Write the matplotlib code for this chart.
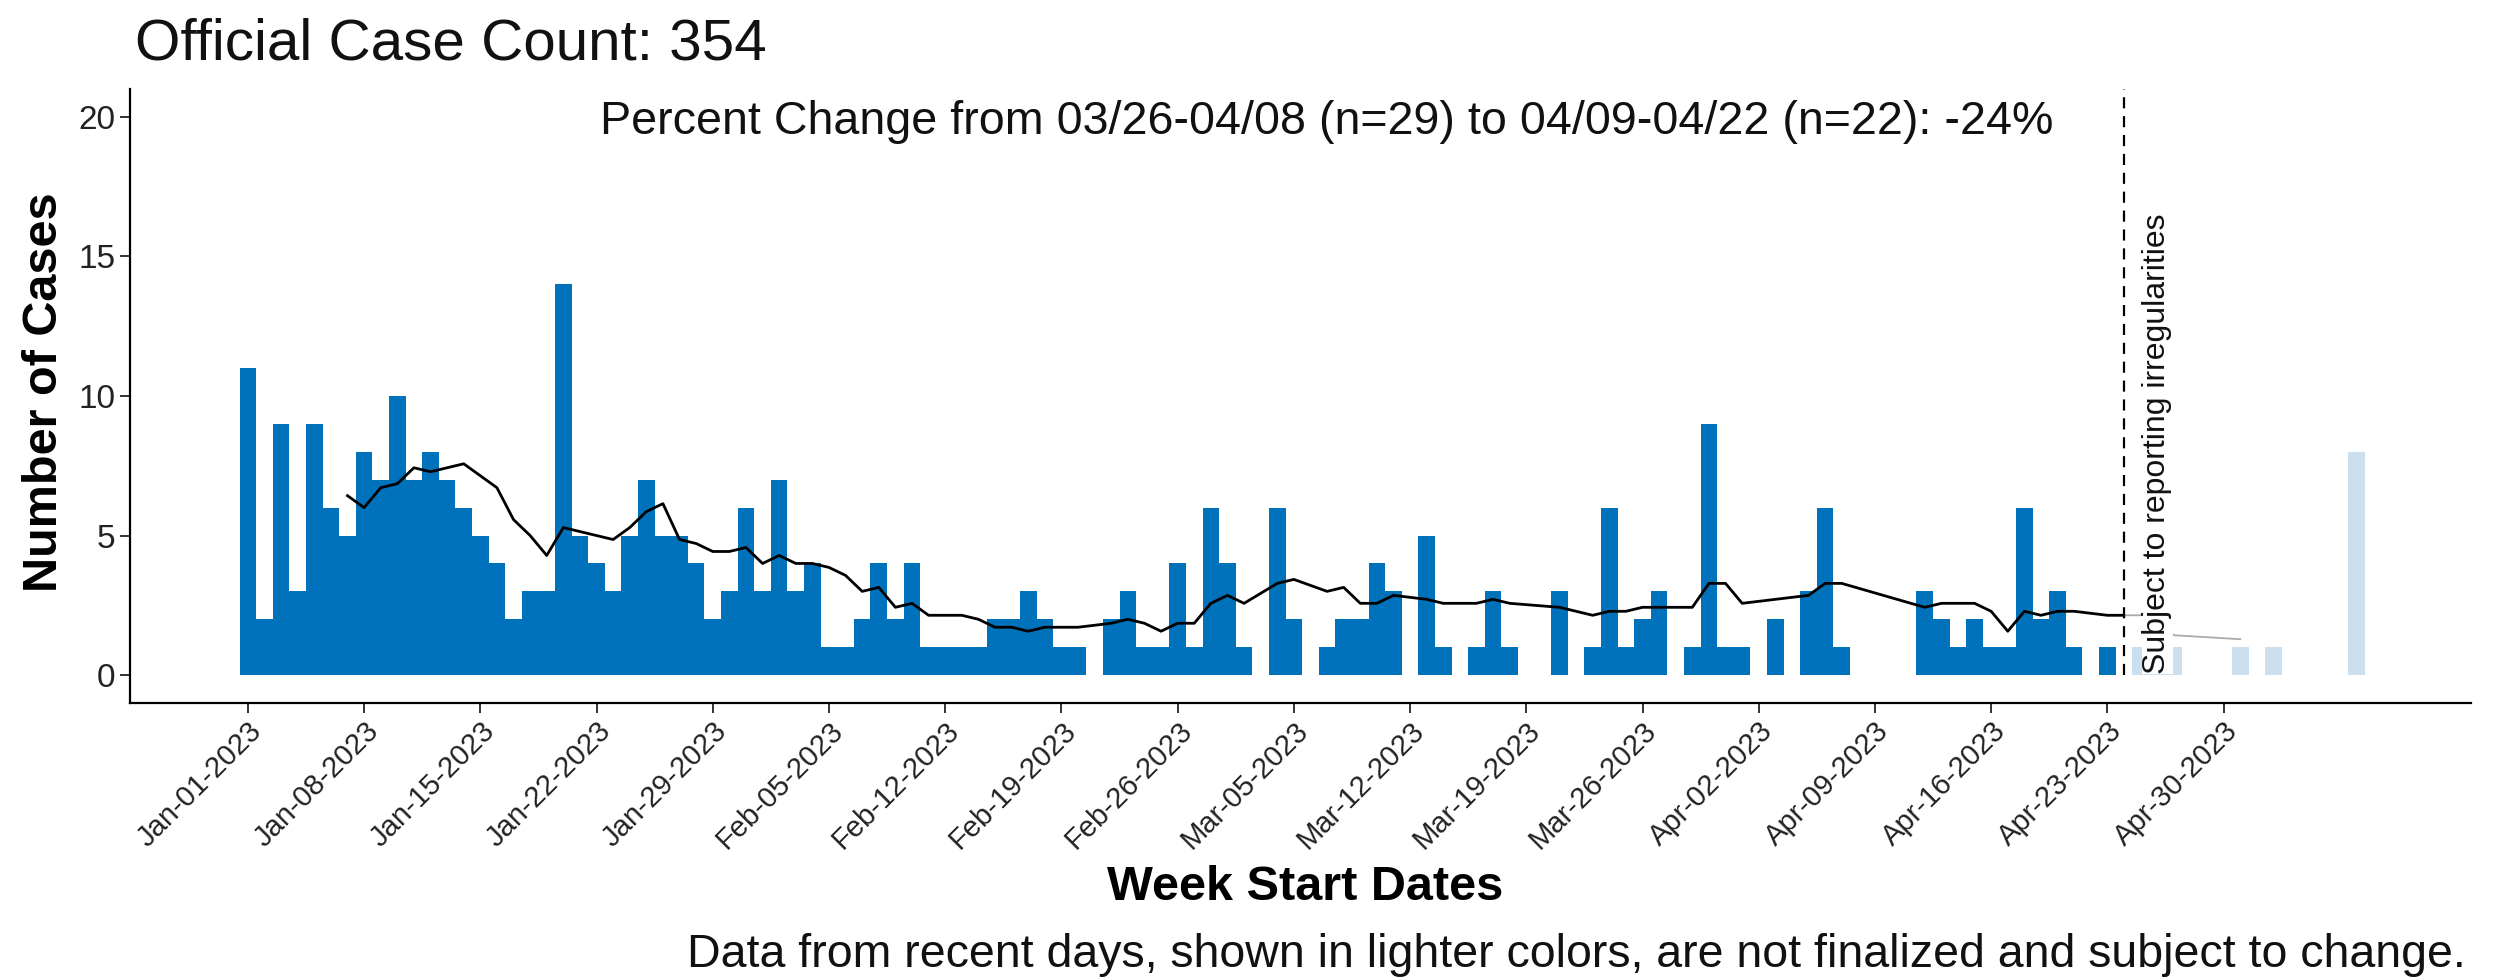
import matplotlib
matplotlib.use("Agg")
import matplotlib.pyplot as plt
import pandas as pd
import numpy as np

plt.rcParams['font.family'] = ['Liberation Sans', 'DejaVu Sans']

# ---------------- data ----------------
start_date = "2023-01-01"
daily_cases = [
    11, 2, 9, 3, 9, 6, 5, 8, 7, 10,
    7, 8, 7, 6, 5, 4, 2, 3, 3, 14,
    5, 4, 3, 5, 7, 5, 5, 4, 2, 3,
    6, 3, 7, 3, 4, 1, 1, 2, 4, 2,
    4, 1, 1, 1, 1, 2, 2, 3, 2, 1,
    1, 0, 2, 3, 1, 1, 4, 1, 6, 4,
    1, 0, 6, 2, 0, 1, 2, 2, 4, 3,
    0, 5, 1, 0, 1, 3, 1, 0, 0, 3,
    0, 1, 6, 1, 2, 3, 0, 1, 9, 1,
    1, 0, 2, 0, 3, 6, 1, 0, 0, 0,
    0, 3, 2, 1, 2, 1, 1, 6, 2, 3,
    1, 0, 1, 0, 1, 1, 1, 0, 0, 0,
    1, 0, 1, 0, 0, 0, 0, 8,
]
cutoff_date = "2023-04-24"      # "Subject to reporting irregularities" line
trend_end_date = "2023-05-01"   # last date of the grey trend line
tick_dates = pd.date_range("2023-01-01", "2023-04-30", freq="7D")
y_ticks = [0, 5, 10, 15, 20]

title = "Official Case Count: 354"
change_text = "Percent Change from 03/26-04/08 (n=29) to 04/09-04/22 (n=22): -24%"
vline_text = "Subject to reporting irregularities"
footnote = "Data from recent days, shown in lighter colors, are not finalized and subject to change."

# ---------------- prep ----------------
dates = pd.date_range(start_date, periods=len(daily_cases), freq="D")
s = pd.Series(daily_cases, index=dates, dtype=float)
cut = pd.Timestamp(cutoff_date)
final = s[s.index < cut]
recent = s[s.index >= cut]

# 7-row rolling mean over reported days (days with cases)
reported = s[s > 0]
roll = reported.rolling(7).mean().dropna()
roll_num = roll.index.map(pd.Timestamp.toordinal).values.astype(float)
cut_val = np.interp(cut.toordinal(), roll_num, roll.values)
black = pd.concat([roll[roll.index < cut], pd.Series([cut_val], index=[cut])])
grey = pd.concat([pd.Series([cut_val], index=[cut]),
                  roll[(roll.index > cut) & (roll.index <= pd.Timestamp(trend_end_date))]])

DARK = "#0072BB"
LIGHT = "#CBDFEE"

fig = plt.figure(figsize=(24.96, 9.80), dpi=100)
ax = fig.add_axes([130/2496, 1-703/980, (2471-130)/2496, (703-89)/980])

ax.bar(final.index, final.values, width=1.0, color=DARK, linewidth=0, zorder=2)
ax.bar(recent.index, recent.values, width=1.0, color=LIGHT, linewidth=0, zorder=2)

ax.plot(black.index, black.values, color="black", lw=2.0, zorder=3)
ax.plot(grey.index, grey.values, color="#AAAAAA", lw=1.3, zorder=3)

ax.plot([cut, cut], [0, 21], color="black", lw=1.6, ls=(0, (5, 3.5)), zorder=4)

ax.text(cut + pd.Timedelta(days=2), 0.05, vline_text, rotation=90, ha="center", va="bottom",
        fontsize=23, color="#111111", zorder=5,
        bbox=dict(facecolor="white", edgecolor="none", pad=0.5))

ax.text(pd.Timestamp("2023-03-07"), 19.8, change_text, ha="center", va="center",
        fontsize=33.6, color="#111111", zorder=5)

x0 = pd.Timestamp(start_date)
ax.set_xlim(x0 - pd.Timedelta(days=7.1), x0 + pd.Timedelta(days=133.9))
ax.set_ylim(-1, 21)

ax.set_xticks(tick_dates)
ax.set_xticklabels([d.strftime("%b-%d-%Y") for d in tick_dates], rotation=45,
                   ha="right", rotation_mode="anchor", fontsize=21, color="#222222")
ax.set_yticks(y_ticks)
ax.set_yticklabels([str(v) for v in y_ticks], fontsize=24, color="#222222")
ax.tick_params(axis="both", length=7, width=1.4, color="#333333")
ax.tick_params(axis="x", pad=3)

for sp in ["top", "right"]:
    ax.spines[sp].set_visible(False)
for sp in ["left", "bottom"]:
    ax.spines[sp].set_linewidth(1.6)

fig.text(135/2496, 1-60/980, title, fontsize=42, ha="left", va="baseline", color="#111111")
fig.text(45/2496, 1-392/980, "Number of Cases", fontsize=35, fontweight="bold",
         rotation=90, ha="center", va="center")
fig.text(1305/2496, 1-887/980, "Week Start Dates", fontsize=35, fontweight="bold",
         ha="center", va="center")
fig.text(2466/2496, 1-955/980, footnote, fontsize=33.5, ha="right", va="center", color="#111111")

fig.savefig("out.png", dpi=100, facecolor="white")
